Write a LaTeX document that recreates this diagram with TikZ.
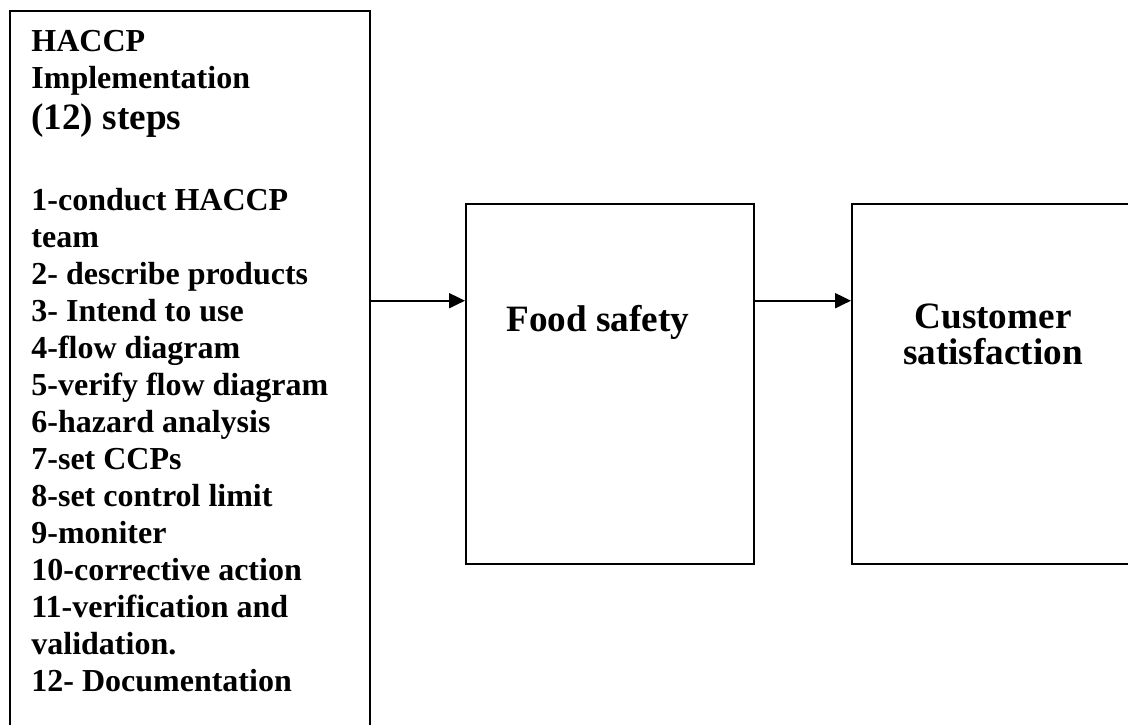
\documentclass[tikz,border=0pt]{standalone}
\usepackage{fontspec}
\setmainfont{Liberation Serif}
\usepackage{tikz}
\usetikzlibrary{arrows.meta}
\usetikzlibrary{positioning}

\tikzset{
    box/.style={draw,line width=1pt,inner sep=0pt},
    steptext/.style={anchor=base west,inner sep=0pt,font=\bfseries\fontsize{16}{18.5}\selectfont},
    bigtext/.style={inner sep=0pt,font=\bfseries\fontsize{18.6}{18.35}\selectfont}
}

\begin{document}
\begin{tikzpicture}[x=0.5pt,y=-0.5pt]
        \useasboundingbox (0,0) rectangle (1128,724);
        % boxes
        \node [box,minimum width=180pt,minimum height=385pt] (steps) at (190,396) {};
        \node [box,minimum width=144pt,minimum height=180pt] (food) at (610,384) {};
        \node [box,minimum width=144pt,minimum height=180pt,right=48pt of food] (cust) {};
        % left box text
        \node [steptext] (t1) at (31,51.7) {HACCP};
        \node [steptext] (t2) at (31,88.3) {Implementation};
        \node [steptext,font=\bfseries\fontsize{18.6}{22}\selectfont] (t3) at (31,129) {(12) steps};
        \foreach \txt [count=\i from 0] in {1-conduct HACCP,team,2- describe products,3- Intend to use,
            4-flow diagram,5-verify flow diagram,6-hazard analysis,7-set CCPs,8-set control limit,
            9-moniter,10-corrective action,11-verification and,validation.,12- Documentation}
            \node [steptext] (l\i) at (31,210.7+37*\i) {\txt};
        % right boxes text
        \node [bigtext,anchor=base west] (fs) at (506,331.7) {Food safety};
        \node [bigtext,align=center,anchor=north] (cs) at (993,303) {Customer\\satisfaction};
        % arrows
        \coordinate (a1) at (370,300.7);
        \coordinate (a2) at (754,300.7);
        \draw[line width=1pt,-{Triangle[length=8pt,width=7.5pt]}] (a1) -- (a1 -| food.west);
        \draw[line width=1pt,-{Triangle[length=8pt,width=7.5pt]}] (a2) -- (a2 -| cust.west);
    \end{tikzpicture}
\end{document}
